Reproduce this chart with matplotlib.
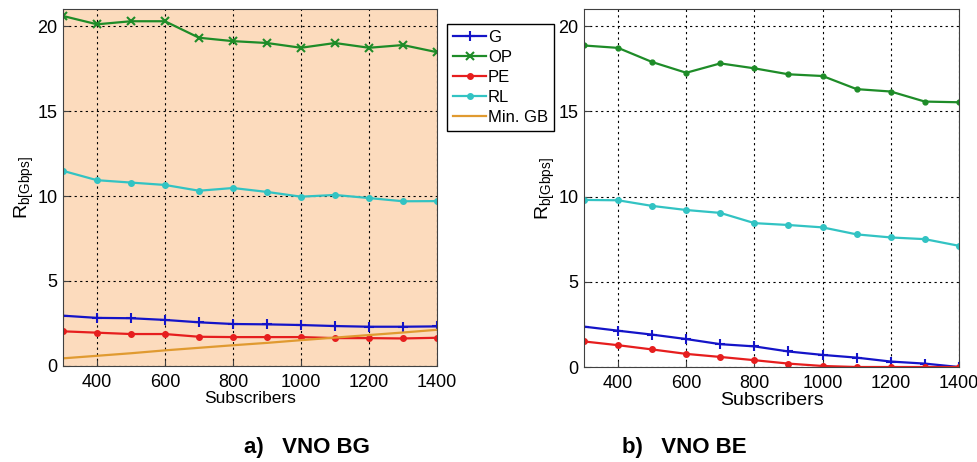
import matplotlib
matplotlib.use("Agg")
import matplotlib.pyplot as plt

plt.rcParams['font.family'] = ['Liberation Sans', 'DejaVu Sans']
plt.rcParams['mathtext.fontset'] = 'custom'
plt.rcParams['mathtext.rm'] = 'Liberation Sans'
plt.rcParams['mathtext.it'] = 'Liberation Sans'

subscribers = [300, 400, 500, 600, 700, 800, 900, 1000, 1100, 1200, 1300, 1400]

# a) VNO BG
bg_g = [2.96, 2.83, 2.81, 2.71, 2.57, 2.47, 2.45, 2.41, 2.35, 2.31, 2.31, 2.33]
bg_op = [20.59, 20.10, 20.28, 20.28, 19.31, 19.11, 19.00, 18.72, 19.00, 18.72, 18.88, 18.46]
bg_pe = [2.04, 1.96, 1.88, 1.88, 1.72, 1.70, 1.70, 1.70, 1.64, 1.64, 1.62, 1.66]
bg_rl = [11.48, 10.93, 10.79, 10.65, 10.31, 10.47, 10.24, 9.96, 10.06, 9.88, 9.69, 9.70]
bg_min_gb = [0.45, 0.60, 0.75, 0.92, 1.07, 1.22, 1.36, 1.52, 1.67, 1.82, 1.97, 2.13]

# b) VNO BE
be_g = [2.37, 2.13, 1.90, 1.64, 1.34, 1.21, 0.91, 0.71, 0.55, 0.32, 0.20, 0.0]
be_op = [18.86, 18.72, 17.89, 17.26, 17.81, 17.52, 17.17, 17.07, 16.30, 16.16, 15.57, 15.53]
be_pe = [1.50, 1.28, 1.03, 0.77, 0.59, 0.40, 0.20, 0.06, 0.0, 0.0, 0.0, 0.0]
be_rl = [9.80, 9.78, 9.45, 9.21, 9.04, 8.44, 8.33, 8.19, 7.78, 7.60, 7.50, 7.11]

names = ['G', 'OP', 'PE', 'RL', 'Min. GB']
captions = ['a)   VNO BG', 'b)   VNO BE']

c_g = '#1414c8'
c_op = '#1e8c28'
c_pe = '#e61e1e'
c_rl = '#32c3c3'
c_gb = '#e09a30'

fig = plt.figure(figsize=(9.78, 4.62), dpi=100)
ax1 = fig.add_axes([0.0644, 0.2078, 0.3824, 0.7727])
ax2 = fig.add_axes([0.5971, 0.2056, 0.3834, 0.7749])

lw = 1.6
ax1.set_facecolor('#fcdbbd')
h1, = ax1.plot(subscribers, bg_g, color=c_g, lw=lw, marker='+', ms=7, mew=1.5)
h2, = ax1.plot(subscribers, bg_op, color=c_op, lw=lw, marker='x', ms=6, mew=1.5)
h3, = ax1.plot(subscribers, bg_pe, color=c_pe, lw=lw, marker='.', ms=8)
h4, = ax1.plot(subscribers, bg_rl, color=c_rl, lw=lw, marker='.', ms=8)
h5, = ax1.plot(subscribers, bg_min_gb, color=c_gb, lw=lw)

ax2.plot(subscribers, be_g, color=c_g, lw=lw, marker='+', ms=7, mew=1.5)
ax2.plot(subscribers, be_op, color=c_op, lw=lw, marker='.', ms=7)
ax2.plot(subscribers, be_pe, color=c_pe, lw=lw, marker='.', ms=8)
ax2.plot(subscribers, be_rl, color=c_rl, lw=lw, marker='.', ms=8)

for ax, xl_size in ((ax1, 12.5), (ax2, 14)):
    ax.set_xlim(300, 1400)
    ax.set_ylim(0, 21)
    ax.set_xticks([400, 600, 800, 1000, 1200, 1400])
    ax.set_yticks([0, 5, 10, 15, 20])
    ax.grid(True, color='black', linestyle=(0, (2, 3)), linewidth=0.8)
    ax.tick_params(direction='in', labelsize=13, length=4, color='#404040')
    ax.tick_params(axis='x', pad=6)
    ax.tick_params(axis='y', pad=4)
    for s in ax.spines.values():
        s.set_color('#404040')
    ax.set_xlabel('Subscribers', fontsize=xl_size, labelpad=0)
    ax.set_ylabel(r'$\mathrm{R}_{\mathrm{b[Gbps]}}$', fontsize=14, labelpad=1)

fig.legend([h1, h2, h3, h4, h5], names, loc='upper left',
           bbox_to_anchor=(447 / 978, 1 - 24 / 462), fontsize=12,
           fancybox=False, edgecolor='black', framealpha=1,
           handlelength=2.0, handletextpad=0.1, labelspacing=0.3,
           borderpad=0.35, borderaxespad=0)

fig.text(307 / 978, 1 - 448 / 462, captions[0], fontsize=16, fontweight='bold',
         ha='center', va='center')
fig.text(684 / 978, 1 - 448 / 462, captions[1], fontsize=16, fontweight='bold',
         ha='center', va='center')

fig.savefig('out.png', dpi=100)
